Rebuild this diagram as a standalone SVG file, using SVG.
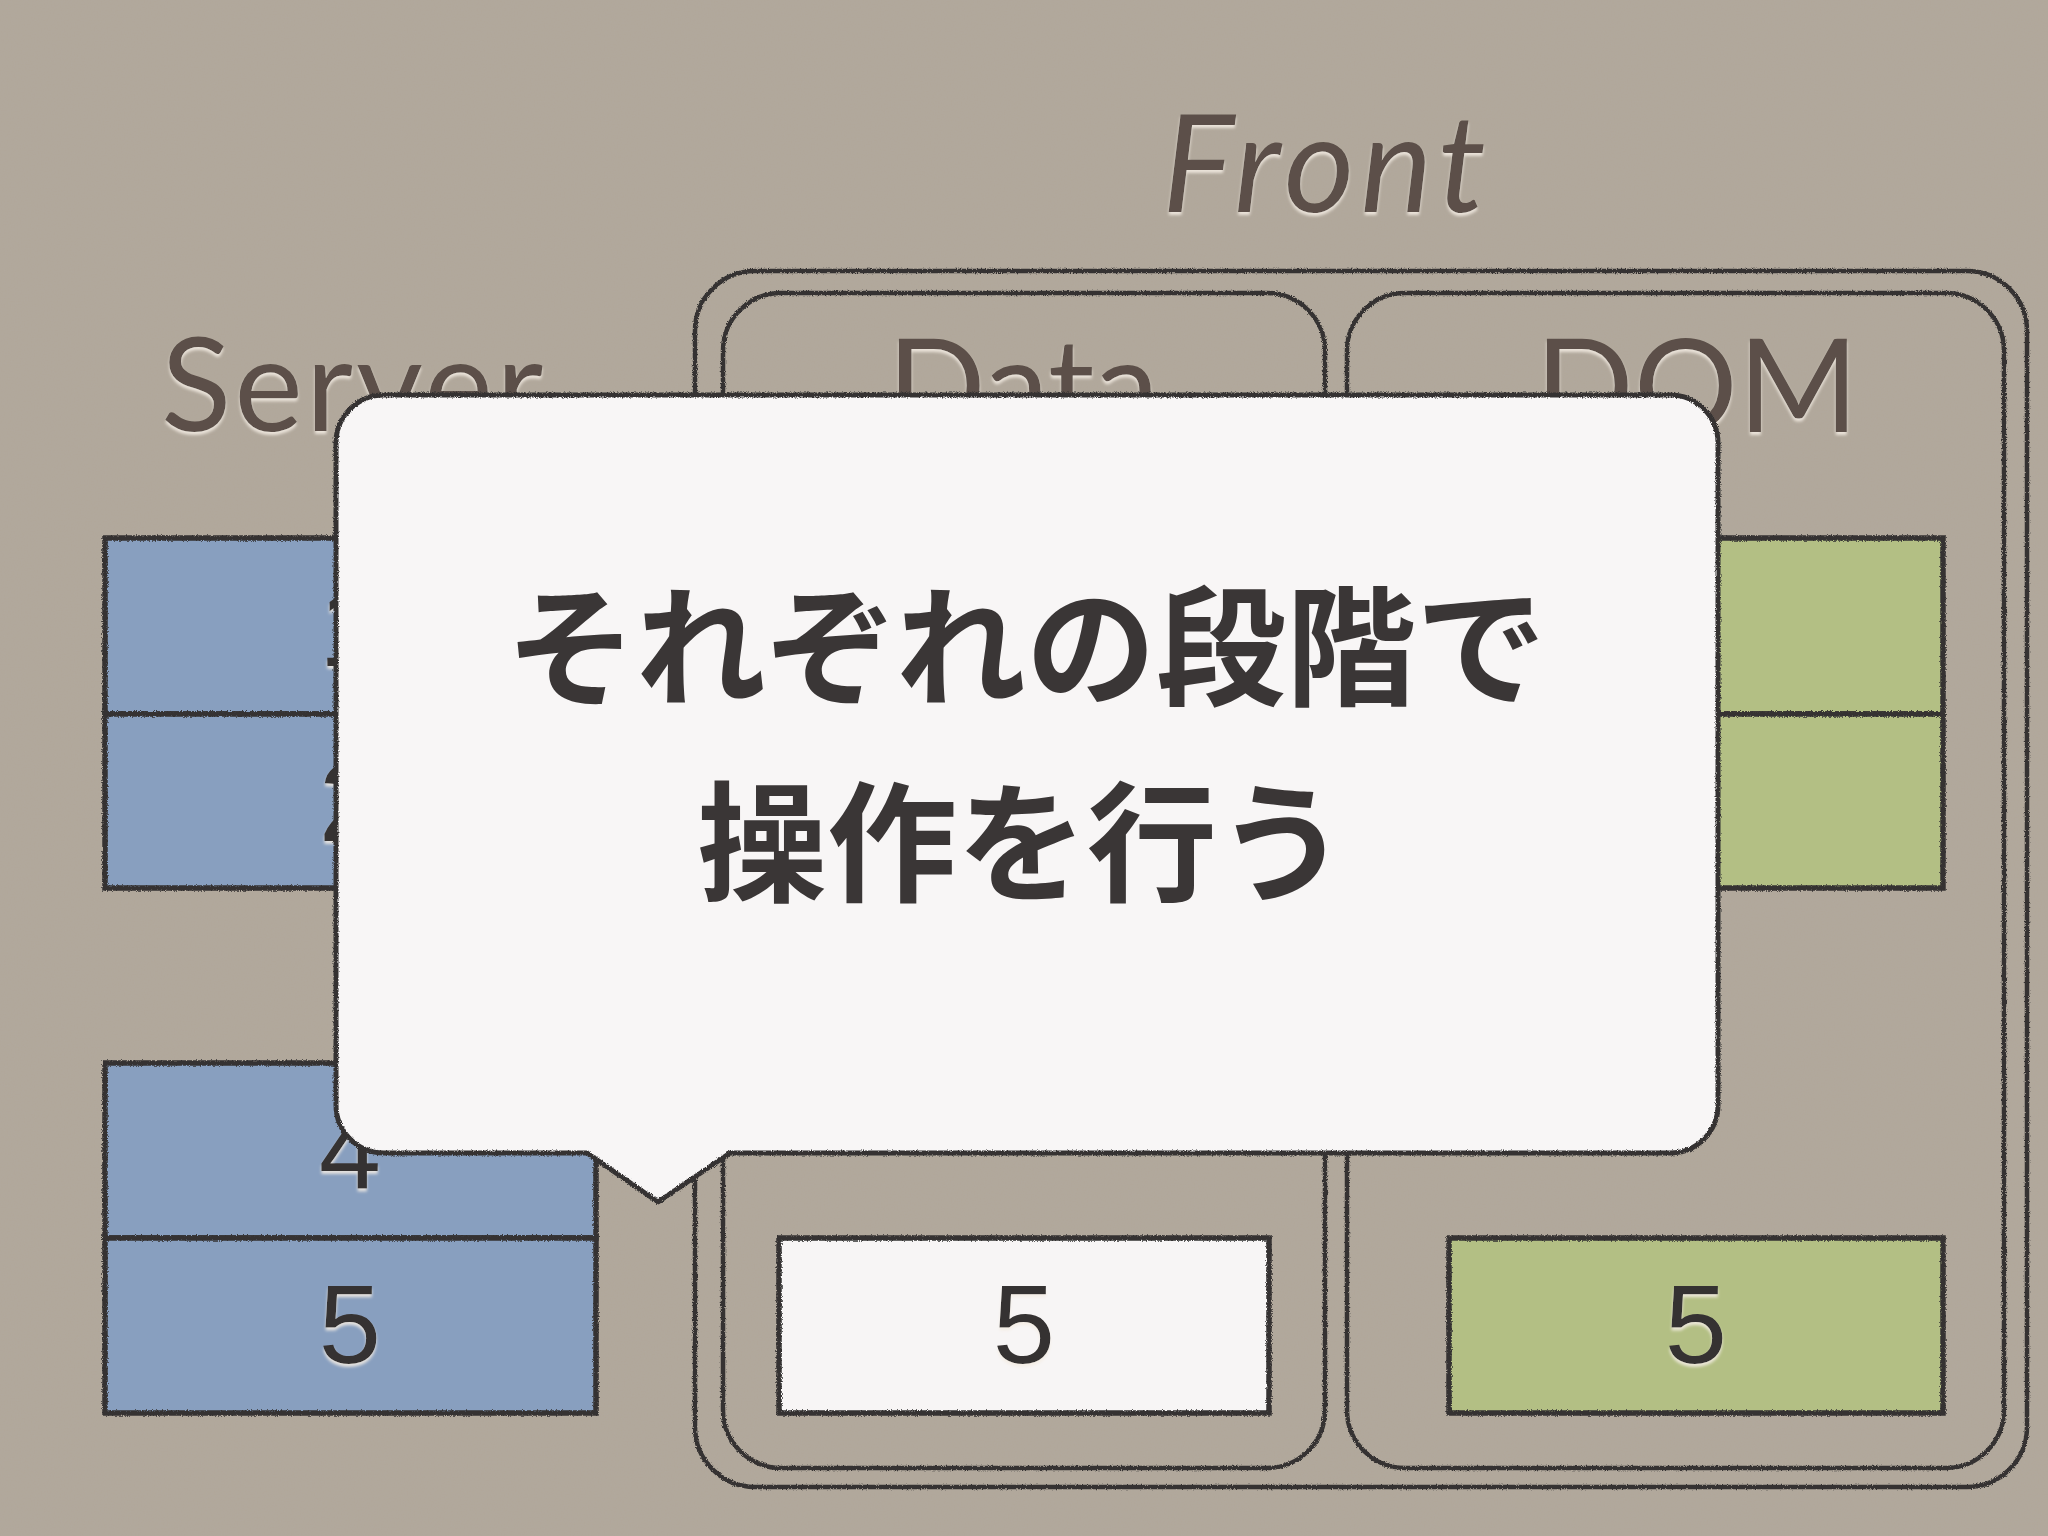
<svg xmlns="http://www.w3.org/2000/svg" width="2048" height="1536" viewBox="0 0 2048 1536">
  <defs>
    <filter id="paper" x="0" y="0" width="100%" height="100%">
      <feTurbulence type="fractalNoise" baseFrequency="0.7" numOctaves="2" seed="7" result="n"/>
      <feColorMatrix in="n" type="matrix" values="0 0 0 0 0.45  0 0 0 0 0.42  0 0 0 0 0.38  0 0 0 0.35 -0.05"/>
    </filter>
    <filter id="rough" x="-3%" y="-3%" width="106%" height="106%">
      <feTurbulence type="fractalNoise" baseFrequency="1.2" numOctaves="1" seed="3" result="n"/>
      <feDisplacementMap in="SourceGraphic" in2="n" scale="4" xChannelSelector="R" yChannelSelector="G"/>
    </filter>
    <filter id="emboss" x="-5%" y="-10%" width="110%" height="130%">
      <feGaussianBlur in="SourceAlpha" stdDeviation="1.5" result="b"/>
      <feOffset in="b" dy="3" result="o"/>
      <feFlood flood-color="#f4ede4" flood-opacity="0.85"/>
      <feComposite in2="o" operator="in" result="s"/>
      <feMerge><feMergeNode in="s"/><feMergeNode in="SourceGraphic"/></feMerge>
    </filter>
    <style>
      .label { font-family: Lato, "Open Sans", "Liberation Sans", sans-serif; font-size: 130px; fill: #5c5048; }
      .front { font-style: italic; font-size: 136px; letter-spacing: 6px; }
      .server { letter-spacing: 3px; }
      .digit { font-family: "Liberation Sans", Arial, sans-serif; font-size: 112px; fill: #343131; text-anchor: middle; }
      .frame { fill: none; stroke: #353332; stroke-width: 4.5; }
      .cell { stroke: #353332; stroke-width: 5.5; }
      .blue { fill: #889fbf; }
      .green { fill: #b3bf84; }
      .white { fill: #f7f5f5; }
      .bubble { fill: #f8f6f6; stroke: #343232; stroke-width: 5; stroke-linejoin: round; }
      .msg { font-family: "Noto Sans CJK JP", "Noto Sans CJK SC", sans-serif; font-weight: 700; font-size: 130px; fill: #3a3636; text-anchor: middle; }
    </style>
  </defs>

  <rect x="0" y="0" width="2048" height="1536" fill="#b1a79a"/>
  <rect x="0" y="0" width="2048" height="1536" filter="url(#paper)"/>

  <g id="front-label" filter="url(#emboss)">
    <text class="label front" x="1162" y="212">Front</text>
  </g>

  <g id="front-box" filter="url(#rough)">
    <rect class="frame" x="695" y="271" width="1332" height="1216" rx="60" ry="60"/>
  </g>

  <g id="data-box">
    <rect class="frame" x="723" y="293" width="602" height="1175" rx="58" ry="58" filter="url(#rough)"/>
    <g filter="url(#emboss)"><text class="label" x="887" y="432">Data</text></g>
  </g>

  <g id="dom-box">
    <rect class="frame" x="1347" y="293" width="657" height="1175" rx="58" ry="58" filter="url(#rough)"/>
    <g filter="url(#emboss)"><text class="label" x="1535" y="432">DOM</text></g>
  </g>

  <g id="server-label" filter="url(#emboss)">
    <text class="label server" x="161" y="431">Server</text>
  </g>

  <g id="server-cells">
    <g filter="url(#rough)">
      <rect class="cell blue" x="105" y="538" width="491" height="176"/>
      <rect class="cell blue" x="105" y="714" width="491" height="174"/>
      <rect class="cell blue" x="105" y="1063" width="491" height="175"/>
      <rect class="cell blue" x="105" y="1238" width="491" height="175"/>
    </g>
    <g filter="url(#emboss)">
      <text class="digit" x="350" y="666">1</text>
      <text class="digit" x="350" y="841">2</text>
      <text class="digit" x="350" y="1188">4</text>
      <text class="digit" x="350" y="1363">5</text>
    </g>
  </g>

  <g id="data-cells">
    <rect class="cell white" x="779" y="1238" width="490" height="175" filter="url(#rough)"/>
    <g filter="url(#emboss)"><text class="digit" x="1024" y="1363">5</text></g>
  </g>

  <g id="dom-cells">
    <g filter="url(#rough)">
      <rect class="cell green" x="1449" y="538" width="494" height="176"/>
      <rect class="cell green" x="1449" y="714" width="494" height="174"/>
      <rect class="cell green" x="1449" y="1238" width="494" height="175"/>
    </g>
    <g filter="url(#emboss)"><text class="digit" x="1696" y="1363">5</text></g>
  </g>

  <g id="connectors"/>

  <g id="callout">
    <path class="bubble" filter="url(#rough)" d="M384,395 H1670 A48,48 0 0 1 1718,443 V1105 A48,48 0 0 1 1670,1153 H730 L658,1202 L587,1153 H384 A48,48 0 0 1 336,1105 V443 A48,48 0 0 1 384,395 Z"/>
    <text class="msg" x="1026" y="695">それぞれの段階で</text>
    <text class="msg" x="1022" y="891">操作を行う</text>
  </g>
</svg>
